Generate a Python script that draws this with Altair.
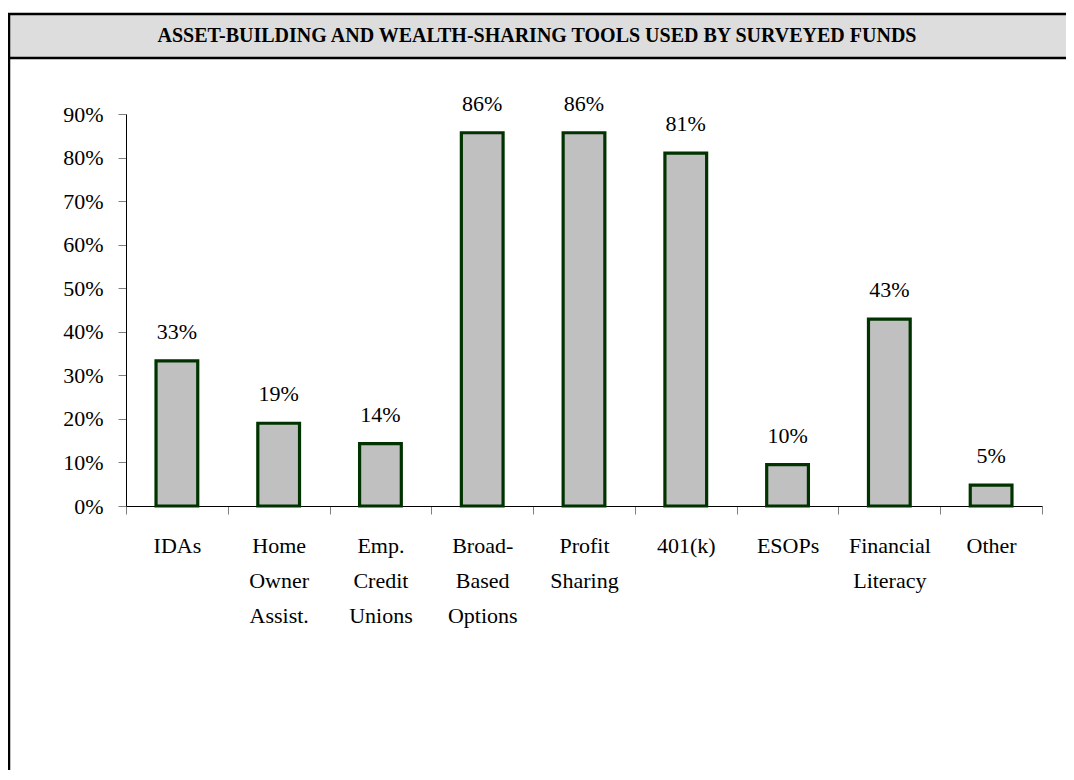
import altair as alt
import pandas as pd

# ---- data ----
categories = ["IDAs", "Home\nOwner\nAssist.", "Emp.\nCredit\nUnions", "Broad-\nBased\nOptions",
              "Profit\nSharing", "401(k)", "ESOPs", "Financial\nLiteracy", "Other"]
values = [0.333, 0.190, 0.143, 0.857, 0.857, 0.810, 0.095, 0.429, 0.048]
value_labels = ["33%", "19%", "14%", "86%", "86%", "81%", "10%", "43%", "5%"]
y_ticks = [0.0, 0.1, 0.2, 0.3, 0.4, 0.5, 0.6, 0.7, 0.8, 0.9]
title_text = "Asset-Building and Wealth-Sharing Tools Used by Surveyed Funds"

FONT = "Liberation Serif"
FS = 22

df = pd.DataFrame({"category": categories, "value": values, "label": value_labels})
deco = pd.DataFrame({"k": [0]})

x_enc = alt.X(
    "category:N", sort=categories, title=None,
    scale=alt.Scale(paddingInner=0, paddingOuter=0),
    axis=alt.Axis(labelAngle=0, tickBand="extent", labelExpr="split(datum.label, '\\n')",
                  labelLineHeight=35, labelFont=FONT, labelFontSize=FS, labelColor="black",
                  labelPadding=21, tickSize=8, tickColor="#808080", domainColor="black",
                  labelBaseline="top"),
)
y_enc = alt.Y(
    "value:Q", title=None,
    scale=alt.Scale(domain=[0, 0.9], nice=False, zero=True),
    axis=alt.Axis(values=y_ticks, format=".0%", grid=False, tickSize=8, tickColor="#808080",
                  domainColor="black", labelPadding=15, labelFont=FONT, labelFontSize=FS,
                  labelColor="black"),
)

bars = alt.Chart(df).mark_bar(
    width=alt.RelativeBandSize(0.41), fill="#c0c0c0", stroke="#003300", strokeWidth=3.2,
    strokeJoin="miter"
).encode(x=x_enc, y=y_enc)

labels = alt.Chart(df).mark_text(
    font=FONT, fontSize=FS, color="black", baseline="alphabetic", dy=-22
).encode(x=alt.X("category:N", sort=categories), y=alt.Y("value:Q"), text="label:N")

band = alt.Chart(deco).mark_rect(fill="#dddddd").encode(
    x=alt.value(-117), x2=alt.value(1200), y=alt.value(-100), y2=alt.value(-56))
border = alt.Chart(deco).mark_rect(fillOpacity=0, stroke="black", strokeWidth=2.5).encode(
    x=alt.value(-117), x2=alt.value(1200), y=alt.value(-100), y2=alt.value(1000))
sep = alt.Chart(deco).mark_rule(stroke="black", strokeWidth=2.5).encode(
    x=alt.value(-117), x2=alt.value(1200), y=alt.value(-56))
title = alt.Chart(deco).mark_text(
    text=title_text.upper(), font=FONT, fontSize=20, fontWeight="bold", color="black",
    align="center", baseline="middle"
).encode(x=alt.value(411), y=alt.value(-78))

chart = alt.layer(band, border, sep, title, bars, labels).properties(
    width=916, height=392, autosize="none",
    padding={"left": 118, "top": 106, "right": 24, "bottom": 264},
).configure_view(stroke=None)

chart.save("out.html", embed_options={"renderer": "svg", "actions": False})
